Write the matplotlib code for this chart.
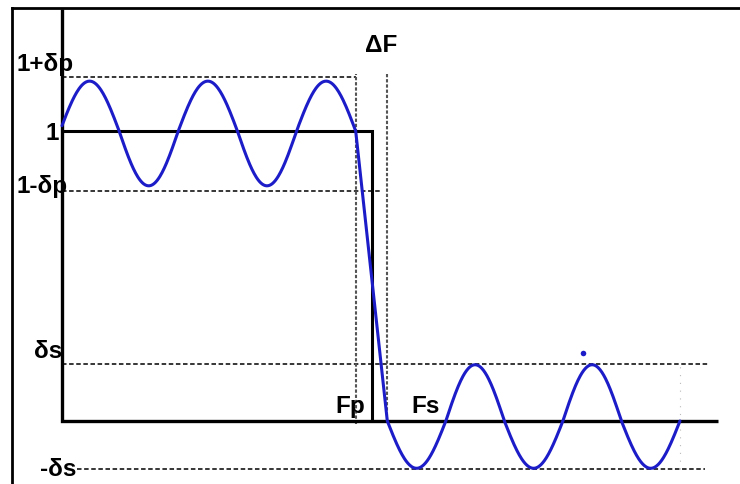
import numpy as np
import matplotlib
matplotlib.use("Agg")
import matplotlib.pyplot as plt
from matplotlib.lines import Line2D

# ---- filter specification (frequency normalised to the drawn axis length) ----
f_pass = 0.4477        # Fp, passband edge
f_stop = 0.4959        # Fs, stopband edge
f_cut = 0.473          # ideal brick-wall cutoff
f_end = 1.0            # end of frequency axis
f_ripple_end = 0.942   # last stopband ripple sample
pass_period = 0.1803
stop_half_cycles = 5

# tolerance levels (amplitude)
level_names = ["1+δp", "1-δp", "δs", "-δs"]
level_values = [1.185, 0.792, 0.197, -0.165]

# ripple swing above / below the nominal level
pass_ripple = (0.172, 0.189)
stop_ripple = (0.194, 0.163)

# a lone marker above the second stopband peak
dot_x, dot_y = [0.794], [0.2345]

BLUE = "#1c1cc8"
FONT = dict(family=["Liberation Sans", "DejaVu Sans"], weight="bold", size=17.5)

fig = plt.figure(figsize=(7.4, 4.85), dpi=100)
ax = fig.add_axes([0, 0, 1, 1])
ax.set_xlim(-0.09451, 1.03354)
ax.set_ylim(-0.2172, 1.4552)
ax.axis("off")


def ripple(x, start, period, up, down):
    # falling zero crossing at `start`, different swing above and below
    s = -np.sin(2 * np.pi * (x - start) / period)
    return np.where(s > 0, up * s, down * s)


stop_period = 2 * (f_ripple_end - f_stop) / stop_half_cycles

xp = np.linspace(0, f_pass, 400)
yp = 1 + ripple(xp, f_pass, pass_period, *pass_ripple)
xs = np.linspace(f_stop, f_ripple_end, 500)
ys = ripple(xs, f_stop, stop_period, *stop_ripple)
x_resp = np.concatenate([xp, xs])
y_resp = np.concatenate([yp, ys])

# tolerance lines
dash_h = dict(color="#1e1e1e", lw=1.25, linestyle=(0, (2.6, 1.5)), zorder=2)
ax.plot([0, f_pass], [level_values[0]] * 2, **dash_h)
ax.plot([0, f_stop - 0.008], [level_values[1]] * 2, **dash_h)
ax.plot([0, 0.985], [level_values[2]] * 2, **dash_h)
ax.plot([0.023, 0.980], [level_values[3]] * 2, **dash_h)

dash_v = dict(color="#555555", lw=1.5, linestyle=(0, (1.6, 0.9)), zorder=2)
ax.plot([f_pass, f_pass], [-0.01, 1.195], **dash_v)
ax.plot([f_stop, f_stop], [0.0, 1.195], **dash_v)
ax.plot([f_ripple_end, f_ripple_end], [level_values[3], level_values[2]],
        color="#bbbbbb", lw=0.8, linestyle=(0, (1, 6)), zorder=1)

# axes
ax.plot([0, 0, f_end], [1.4207, 0, 0], color="black", lw=2.4,
        solid_joinstyle="miter", solid_capstyle="butt", zorder=3)
# ideal response
ax.plot([0, f_cut, f_cut], [1, 1, 0], color="black", lw=2.2,
        solid_joinstyle="miter", solid_capstyle="butt", zorder=3)

# actual response
ax.plot(x_resp, y_resp, color=BLUE, lw=2.2, zorder=4, solid_capstyle="round")
ax.plot(dot_x, dot_y, "o", color=BLUE, ms=4, mec="none", zorder=4)

# labels
ax.text(-0.0686, 1.2103, level_names[0], ha="left", va="baseline", **FONT)
ax.text(-0.0046, 0.972, "1", ha="right", va="baseline", **FONT)
ax.text(-0.0686, 0.789, level_names[1], ha="left", va="baseline", **FONT)
ax.text(0.0, 0.2207, level_names[2], ha="right", va="baseline", **FONT)
ax.text(-0.0335, -0.186, level_names[3], ha="left", va="baseline", **FONT)
ax.text(0.4619, 1.276, "ΔF", ha="left", va="baseline", **FONT)
ax.text(0.4162, 0.031, "Fp", ha="left", va="baseline", **FONT)
ax.text(0.532, 0.031, "Fs", ha="left", va="baseline", **FONT)

# outer frame (left and top edges)
W, H = 740, 485
fig.add_artist(Line2D([11.5 / W, 11.5 / W], [0, 1 - 9 / H], color="black", lw=2.0,
                      transform=fig.transFigure, solid_capstyle="projecting"))
fig.add_artist(Line2D([11.5 / W, 1], [1 - 9 / H, 1 - 9 / H], color="black", lw=2.0,
                      transform=fig.transFigure, solid_capstyle="projecting"))

fig.savefig("out.png", dpi=100)
